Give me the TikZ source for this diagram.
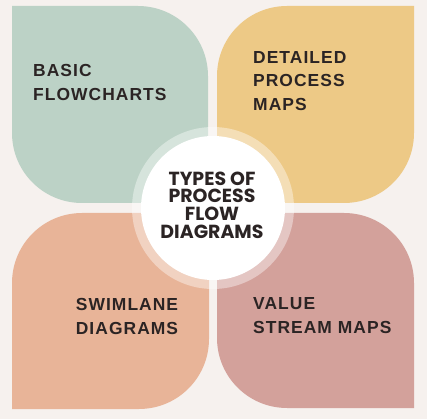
\documentclass[tikz,border=0pt]{standalone}
\usepackage{fontspec}
\setmainfont{Liberation Sans}[LetterSpace=6]
\newfontfamily\hubfont{Poppins}
\usetikzlibrary{positioning}

\definecolor{bgcol}{HTML}{F6F1EE}
\definecolor{sage}{HTML}{BCD2C6}
\definecolor{sand}{HTML}{EDC986}
\definecolor{peach}{HTML}{E8B498}
\definecolor{rose}{HTML}{D3A19B}
\definecolor{ink}{HTML}{2B2424}

\begin{document}
\begin{tikzpicture}[x=1bp,y=1bp,
  leaftext/.style={anchor=base west,align=left,text=ink,inner sep=0pt,
    font=\fontsize{17.5}{23.5}\selectfont\bfseries},
  hubtext/.style={anchor=base,align=center,text=ink,inner sep=0pt,
    font=\hubfont\fontsize{19}{17.7}\selectfont\bfseries}]

      % background
      \fill[bgcol] (0,0) rectangle (427,419);

      % the four leaves
      \fill[sage]  (12,413) -- (138,413) arc (90:0:70) -- (208,216) -- (82,216) arc (270:180:70) -- cycle;
      \fill[sand]  (217,216) -- (217,343) arc (180:90:70) -- (414,413) -- (414,286) arc (0:-90:70) -- cycle;
      \fill[peach] (12,10) -- (12,136) arc (180:90:70) -- (209,206) -- (209,80) arc (0:-90:70) -- cycle;
      \fill[rose]  (217,206) -- (344,206) arc (90:0:70) -- (414,11) -- (287,11) arc (270:180:70) -- cycle;

      % hub
      \fill[white,opacity=0.4] (213,211) circle (81);
      \fill[white] (213,211) circle (72);
      \node[hubtext] (hub) at (212,181) {TYPES OF\\PROCESS\\FLOW\\DIAGRAMS};

      % last line baselines
      \node[leaftext] (basic) at (33,319) {BASIC\\FLOWCHARTS};
      \node[leaftext] (detailed) at (253,309) {DETAILED\\PROCESS\\MAPS};
      \node[leaftext,anchor=base,align=center] (swim) at (127,85) {SWIMLANE\\DIAGRAMS};
      \node[leaftext] (value) at (253,86) {VALUE\\STREAM MAPS};
\end{tikzpicture}
\end{document}
